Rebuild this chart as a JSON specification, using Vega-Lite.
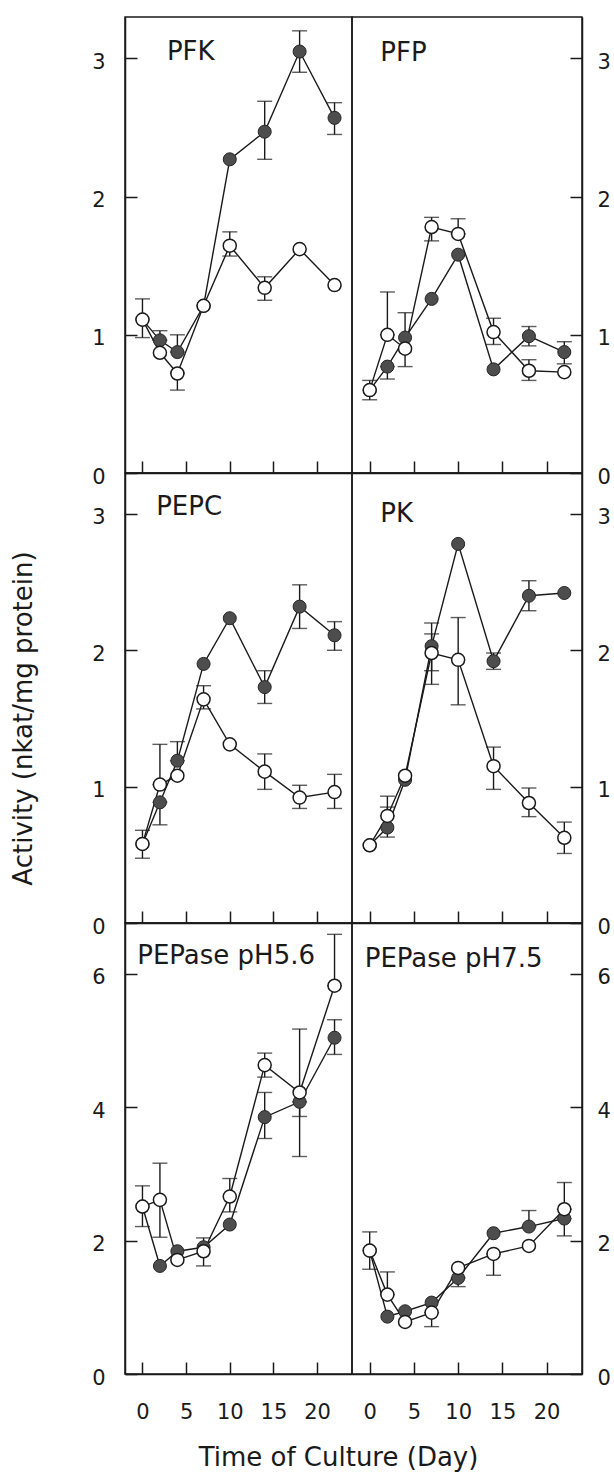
{
  "$schema": "https://vega.github.io/schema/vega-lite/v6.json",
  "padding": {"top": 16, "left": 9, "right": 0, "bottom": 2},
  "config": {
    "font": "DejaVu Sans",
    "view": {"stroke": "#1a1a1a", "strokeWidth": 1.5},
    "axis": {"grid": false, "tickSize": -12, "tickWidth": 1.5, "tickColor": "#1a1a1a", "domainColor": "#1a1a1a", "domainWidth": 1.5, "labelFontSize": 21, "labelColor": "#1a1a1a", "labelFont": "DejaVu Sans", "titleFont": "DejaVu Sans", "titleFontWeight": "normal", "titleColor": "#1a1a1a"},
    "axisLeft": {"labelPadding": 32, "labelOffset": 4},
    "axisRight": {"labelPadding": 27, "labelOffset": 4},
    "axisBottom": {"labelPadding": 39}
  },
  "datasets": {
    "d": [
      {"p": "PFK", "d": 0, "s": "filled", "v": 1.11, "lo": null, "hi": null},
      {"p": "PFK", "d": 2, "s": "filled", "v": 0.96, "lo": 0.96, "hi": 1.03},
      {"p": "PFK", "d": 4, "s": "filled", "v": 0.875, "lo": 0.875, "hi": 1.0},
      {"p": "PFK", "d": 7, "s": "filled", "v": 1.21, "lo": null, "hi": null},
      {"p": "PFK", "d": 10, "s": "filled", "v": 2.27, "lo": null, "hi": null},
      {"p": "PFK", "d": 14, "s": "filled", "v": 2.47, "lo": 2.27, "hi": 2.69},
      {"p": "PFK", "d": 18, "s": "filled", "v": 3.05, "lo": 2.9, "hi": 3.2},
      {"p": "PFK", "d": 22, "s": "filled", "v": 2.57, "lo": 2.45, "hi": 2.68},
      {"p": "PFK", "d": 0, "s": "open", "v": 1.11, "lo": 0.98, "hi": 1.26},
      {"p": "PFK", "d": 2, "s": "open", "v": 0.87, "lo": null, "hi": null},
      {"p": "PFK", "d": 4, "s": "open", "v": 0.72, "lo": 0.6, "hi": 0.72},
      {"p": "PFK", "d": 7, "s": "open", "v": 1.21, "lo": null, "hi": null},
      {"p": "PFK", "d": 10, "s": "open", "v": 1.645, "lo": 1.57, "hi": 1.745},
      {"p": "PFK", "d": 14, "s": "open", "v": 1.34, "lo": 1.25, "hi": 1.42},
      {"p": "PFK", "d": 18, "s": "open", "v": 1.62, "lo": null, "hi": null},
      {"p": "PFK", "d": 22, "s": "open", "v": 1.36, "lo": null, "hi": null},

      {"p": "PFP", "d": 0, "s": "filled", "v": 0.6, "lo": null, "hi": null},
      {"p": "PFP", "d": 2, "s": "filled", "v": 0.77, "lo": 0.68, "hi": 0.77},
      {"p": "PFP", "d": 4, "s": "filled", "v": 0.98, "lo": null, "hi": null},
      {"p": "PFP", "d": 7, "s": "filled", "v": 1.26, "lo": null, "hi": null},
      {"p": "PFP", "d": 10, "s": "filled", "v": 1.58, "lo": null, "hi": null},
      {"p": "PFP", "d": 14, "s": "filled", "v": 0.75, "lo": null, "hi": null},
      {"p": "PFP", "d": 18, "s": "filled", "v": 0.99, "lo": 0.92, "hi": 1.06},
      {"p": "PFP", "d": 22, "s": "filled", "v": 0.875, "lo": 0.79, "hi": 0.95},
      {"p": "PFP", "d": 0, "s": "open", "v": 0.6, "lo": 0.53, "hi": 0.67},
      {"p": "PFP", "d": 2, "s": "open", "v": 1.0, "lo": 1.0, "hi": 1.31},
      {"p": "PFP", "d": 4, "s": "open", "v": 0.9, "lo": 0.77, "hi": 1.16},
      {"p": "PFP", "d": 7, "s": "open", "v": 1.78, "lo": 1.68, "hi": 1.85},
      {"p": "PFP", "d": 10, "s": "open", "v": 1.73, "lo": 1.73, "hi": 1.84},
      {"p": "PFP", "d": 14, "s": "open", "v": 1.02, "lo": 0.93, "hi": 1.12},
      {"p": "PFP", "d": 18, "s": "open", "v": 0.74, "lo": 0.67, "hi": 0.82},
      {"p": "PFP", "d": 22, "s": "open", "v": 0.73, "lo": null, "hi": null},

      {"p": "PEPC", "d": 0, "s": "filled", "v": 0.58, "lo": null, "hi": null},
      {"p": "PEPC", "d": 2, "s": "filled", "v": 0.885, "lo": 0.72, "hi": 0.885},
      {"p": "PEPC", "d": 4, "s": "filled", "v": 1.19, "lo": 1.19, "hi": 1.33},
      {"p": "PEPC", "d": 7, "s": "filled", "v": 1.9, "lo": null, "hi": null},
      {"p": "PEPC", "d": 10, "s": "filled", "v": 2.235, "lo": null, "hi": null},
      {"p": "PEPC", "d": 14, "s": "filled", "v": 1.73, "lo": 1.61, "hi": 1.85},
      {"p": "PEPC", "d": 18, "s": "filled", "v": 2.32, "lo": 2.16, "hi": 2.48},
      {"p": "PEPC", "d": 22, "s": "filled", "v": 2.11, "lo": 2.0, "hi": 2.21},
      {"p": "PEPC", "d": 0, "s": "open", "v": 0.58, "lo": 0.475, "hi": 0.68},
      {"p": "PEPC", "d": 2, "s": "open", "v": 1.015, "lo": 1.015, "hi": 1.31},
      {"p": "PEPC", "d": 4, "s": "open", "v": 1.08, "lo": null, "hi": null},
      {"p": "PEPC", "d": 7, "s": "open", "v": 1.64, "lo": 1.57, "hi": 1.74},
      {"p": "PEPC", "d": 10, "s": "open", "v": 1.31, "lo": null, "hi": null},
      {"p": "PEPC", "d": 14, "s": "open", "v": 1.11, "lo": 0.98, "hi": 1.24},
      {"p": "PEPC", "d": 18, "s": "open", "v": 0.92, "lo": 0.84, "hi": 1.01},
      {"p": "PEPC", "d": 22, "s": "open", "v": 0.96, "lo": 0.84, "hi": 1.09},

      {"p": "PK", "d": 0, "s": "filled", "v": 0.57, "lo": null, "hi": null},
      {"p": "PK", "d": 2, "s": "filled", "v": 0.7, "lo": 0.63, "hi": 0.85},
      {"p": "PK", "d": 4, "s": "filled", "v": 1.05, "lo": null, "hi": null},
      {"p": "PK", "d": 7, "s": "filled", "v": 2.03, "lo": 1.85, "hi": 2.12},
      {"p": "PK", "d": 10, "s": "filled", "v": 2.78, "lo": null, "hi": null},
      {"p": "PK", "d": 14, "s": "filled", "v": 1.92, "lo": 1.86, "hi": 1.98},
      {"p": "PK", "d": 18, "s": "filled", "v": 2.4, "lo": 2.29, "hi": 2.51},
      {"p": "PK", "d": 22, "s": "filled", "v": 2.42, "lo": null, "hi": null},
      {"p": "PK", "d": 0, "s": "open", "v": 0.57, "lo": null, "hi": null},
      {"p": "PK", "d": 2, "s": "open", "v": 0.785, "lo": 0.785, "hi": 0.93},
      {"p": "PK", "d": 4, "s": "open", "v": 1.08, "lo": null, "hi": null},
      {"p": "PK", "d": 7, "s": "open", "v": 1.98, "lo": 1.75, "hi": 2.2},
      {"p": "PK", "d": 10, "s": "open", "v": 1.93, "lo": 1.6, "hi": 2.24},
      {"p": "PK", "d": 14, "s": "open", "v": 1.15, "lo": 0.98, "hi": 1.29},
      {"p": "PK", "d": 18, "s": "open", "v": 0.88, "lo": 0.78, "hi": 0.99},
      {"p": "PK", "d": 22, "s": "open", "v": 0.625, "lo": 0.51, "hi": 0.74},

      {"p": "PEPase pH5.6", "d": 0, "s": "filled", "v": 2.51, "lo": null, "hi": null},
      {"p": "PEPase pH5.6", "d": 2, "s": "filled", "v": 1.62, "lo": null, "hi": null},
      {"p": "PEPase pH5.6", "d": 4, "s": "filled", "v": 1.84, "lo": null, "hi": null},
      {"p": "PEPase pH5.6", "d": 7, "s": "filled", "v": 1.9, "lo": null, "hi": null},
      {"p": "PEPase pH5.6", "d": 10, "s": "filled", "v": 2.24, "lo": null, "hi": null},
      {"p": "PEPase pH5.6", "d": 14, "s": "filled", "v": 3.85, "lo": 3.53, "hi": 4.22},
      {"p": "PEPase pH5.6", "d": 18, "s": "filled", "v": 4.08, "lo": 3.86, "hi": 4.08},
      {"p": "PEPase pH5.6", "d": 22, "s": "filled", "v": 5.04, "lo": 4.79, "hi": 5.31},
      {"p": "PEPase pH5.6", "d": 0, "s": "open", "v": 2.51, "lo": 2.21, "hi": 2.82},
      {"p": "PEPase pH5.6", "d": 2, "s": "open", "v": 2.61, "lo": 2.05, "hi": 3.16},
      {"p": "PEPase pH5.6", "d": 4, "s": "open", "v": 1.71, "lo": null, "hi": null},
      {"p": "PEPase pH5.6", "d": 7, "s": "open", "v": 1.84, "lo": 1.62, "hi": 2.04},
      {"p": "PEPase pH5.6", "d": 10, "s": "open", "v": 2.66, "lo": 2.43, "hi": 2.93},
      {"p": "PEPase pH5.6", "d": 14, "s": "open", "v": 4.63, "lo": 4.45, "hi": 4.81},
      {"p": "PEPase pH5.6", "d": 18, "s": "open", "v": 4.22, "lo": 3.26, "hi": 5.17},
      {"p": "PEPase pH5.6", "d": 22, "s": "open", "v": 5.82, "lo": 5.82, "hi": 6.59},

      {"p": "PEPase pH7.5", "d": 0, "s": "filled", "v": 1.85, "lo": null, "hi": null},
      {"p": "PEPase pH7.5", "d": 2, "s": "filled", "v": 0.86, "lo": null, "hi": null},
      {"p": "PEPase pH7.5", "d": 4, "s": "filled", "v": 0.94, "lo": null, "hi": null},
      {"p": "PEPase pH7.5", "d": 7, "s": "filled", "v": 1.07, "lo": null, "hi": null},
      {"p": "PEPase pH7.5", "d": 10, "s": "filled", "v": 1.44, "lo": 1.31, "hi": 1.44},
      {"p": "PEPase pH7.5", "d": 14, "s": "filled", "v": 2.11, "lo": null, "hi": null},
      {"p": "PEPase pH7.5", "d": 18, "s": "filled", "v": 2.21, "lo": 2.21, "hi": 2.45},
      {"p": "PEPase pH7.5", "d": 22, "s": "filled", "v": 2.33, "lo": 2.07, "hi": 2.33},
      {"p": "PEPase pH7.5", "d": 0, "s": "open", "v": 1.85, "lo": 1.57, "hi": 2.13},
      {"p": "PEPase pH7.5", "d": 2, "s": "open", "v": 1.19, "lo": 1.19, "hi": 1.53},
      {"p": "PEPase pH7.5", "d": 4, "s": "open", "v": 0.78, "lo": null, "hi": null},
      {"p": "PEPase pH7.5", "d": 7, "s": "open", "v": 0.92, "lo": 0.71, "hi": 0.92},
      {"p": "PEPase pH7.5", "d": 10, "s": "open", "v": 1.59, "lo": null, "hi": null},
      {"p": "PEPase pH7.5", "d": 14, "s": "open", "v": 1.8, "lo": 1.48, "hi": 1.8},
      {"p": "PEPase pH7.5", "d": 18, "s": "open", "v": 1.92, "lo": null, "hi": null},
      {"p": "PEPase pH7.5", "d": 22, "s": "open", "v": 2.47, "lo": 2.47, "hi": 2.87}
    ]
  },
  "columns": 2,
  "spacing": 0,
  "bounds": "flush",
  "concat": [
    {
      "width": 227, "height": 456,
      "data": {"name": "d"},
      "transform": [{"filter": "datum.p === 'PFK'"}],
      "layer": [
        {"transform": [{"filter": "datum.lo != null"}], "mark": {"type": "errorbar", "ticks": {"size": 15, "thickness": 1.4, "color": "#1a1a1a"}, "rule": {"strokeWidth": 1.4, "color": "#1a1a1a"}},
         "encoding": {"x": {"field": "d", "type": "quantitative", "scale": {"domain": [-2, 24], "nice": false}, "axis": {"values": [0, 5, 10, 15, 20], "format": "d", "labels": false, "title": null}},
                      "y": {"field": "lo", "type": "quantitative", "scale": {"domain": [0, 3.3], "nice": false}, "axis": {"orient": "left", "values": [0, 1, 2, 3], "format": "d", "title": null}}, "y2": {"field": "hi"}}},
        {"mark": {"type": "line", "color": "#1a1a1a", "strokeWidth": 1.4},
         "encoding": {"x": {"field": "d", "type": "quantitative", "scale": {"domain": [-2, 24], "nice": false}, "axis": {"values": [0, 5, 10, 15, 20], "format": "d", "labels": false, "title": null}},
                      "y": {"field": "v", "type": "quantitative", "scale": {"domain": [0, 3.3], "nice": false}, "axis": {"orient": "left", "values": [0, 1, 2, 3], "format": "d", "title": null}}, "detail": {"field": "s"}}},
        {"transform": [{"filter": "datum.s === 'filled'"}], "mark": {"type": "point", "shape": "circle", "size": 170, "filled": true, "fill": "#4d4d4d", "stroke": "#262626", "strokeWidth": 1, "opacity": 1},
         "encoding": {"x": {"field": "d", "type": "quantitative", "scale": {"domain": [-2, 24], "nice": false}, "axis": {"values": [0, 5, 10, 15, 20], "format": "d", "labels": false, "title": null}},
                      "y": {"field": "v", "type": "quantitative", "scale": {"domain": [0, 3.3], "nice": false}, "axis": {"orient": "left", "values": [0, 1, 2, 3], "format": "d", "title": null}}}},
        {"transform": [{"filter": "datum.s === 'open'"}], "mark": {"type": "point", "shape": "circle", "size": 170, "filled": true, "fill": "white", "stroke": "#1a1a1a", "strokeWidth": 1.5, "opacity": 1},
         "encoding": {"x": {"field": "d", "type": "quantitative", "scale": {"domain": [-2, 24], "nice": false}, "axis": {"values": [0, 5, 10, 15, 20], "format": "d", "labels": false, "title": null}},
                      "y": {"field": "v", "type": "quantitative", "scale": {"domain": [0, 3.3], "nice": false}, "axis": {"orient": "left", "values": [0, 1, 2, 3], "format": "d", "title": null}}}},
        {"transform": [{"filter": "datum.d === 0 && datum.s === 'open'"}], "mark": {"type": "text", "align": "left", "baseline": "middle", "fontSize": 26, "color": "#1a1a1a"},
         "encoding": {"x": {"datum": 2.8, "type": "quantitative"}, "y": {"datum": 3.05, "type": "quantitative"}, "text": {"field": "p"}}}
      ]
    },
    {
      "width": 230, "height": 456,
      "data": {"name": "d"},
      "transform": [{"filter": "datum.p === 'PFP'"}],
      "layer": [
        {"transform": [{"filter": "datum.lo != null"}], "mark": {"type": "errorbar", "ticks": {"size": 15, "thickness": 1.4, "color": "#1a1a1a"}, "rule": {"strokeWidth": 1.4, "color": "#1a1a1a"}},
         "encoding": {"x": {"field": "d", "type": "quantitative", "scale": {"domain": [-2, 24], "nice": false}, "axis": {"values": [0, 5, 10, 15, 20], "format": "d", "labels": false, "title": null}},
                      "y": {"field": "lo", "type": "quantitative", "scale": {"domain": [0, 3.3], "nice": false}, "axis": {"orient": "right", "values": [0, 1, 2, 3], "format": "d", "title": null}}, "y2": {"field": "hi"}}},
        {"mark": {"type": "line", "color": "#1a1a1a", "strokeWidth": 1.4},
         "encoding": {"x": {"field": "d", "type": "quantitative", "scale": {"domain": [-2, 24], "nice": false}, "axis": {"values": [0, 5, 10, 15, 20], "format": "d", "labels": false, "title": null}},
                      "y": {"field": "v", "type": "quantitative", "scale": {"domain": [0, 3.3], "nice": false}, "axis": {"orient": "right", "values": [0, 1, 2, 3], "format": "d", "title": null}}, "detail": {"field": "s"}}},
        {"transform": [{"filter": "datum.s === 'filled'"}], "mark": {"type": "point", "shape": "circle", "size": 170, "filled": true, "fill": "#4d4d4d", "stroke": "#262626", "strokeWidth": 1, "opacity": 1},
         "encoding": {"x": {"field": "d", "type": "quantitative", "scale": {"domain": [-2, 24], "nice": false}, "axis": {"values": [0, 5, 10, 15, 20], "format": "d", "labels": false, "title": null}},
                      "y": {"field": "v", "type": "quantitative", "scale": {"domain": [0, 3.3], "nice": false}, "axis": {"orient": "right", "values": [0, 1, 2, 3], "format": "d", "title": null}}}},
        {"transform": [{"filter": "datum.s === 'open'"}], "mark": {"type": "point", "shape": "circle", "size": 170, "filled": true, "fill": "white", "stroke": "#1a1a1a", "strokeWidth": 1.5, "opacity": 1},
         "encoding": {"x": {"field": "d", "type": "quantitative", "scale": {"domain": [-2, 24], "nice": false}, "axis": {"values": [0, 5, 10, 15, 20], "format": "d", "labels": false, "title": null}},
                      "y": {"field": "v", "type": "quantitative", "scale": {"domain": [0, 3.3], "nice": false}, "axis": {"orient": "right", "values": [0, 1, 2, 3], "format": "d", "title": null}}}},
        {"transform": [{"filter": "datum.d === 0 && datum.s === 'open'"}], "mark": {"type": "text", "align": "left", "baseline": "middle", "fontSize": 26, "color": "#1a1a1a"},
         "encoding": {"x": {"datum": 1.2, "type": "quantitative"}, "y": {"datum": 3.04, "type": "quantitative"}, "text": {"field": "p"}}}
      ]
    },
    {
      "width": 227, "height": 450,
      "data": {"name": "d"},
      "transform": [{"filter": "datum.p === 'PEPC'"}],
      "layer": [
        {"transform": [{"filter": "datum.lo != null"}], "mark": {"type": "errorbar", "ticks": {"size": 15, "thickness": 1.4, "color": "#1a1a1a"}, "rule": {"strokeWidth": 1.4, "color": "#1a1a1a"}},
         "encoding": {"x": {"field": "d", "type": "quantitative", "scale": {"domain": [-2, 24], "nice": false}, "axis": {"values": [0, 5, 10, 15, 20], "format": "d", "labels": false, "title": null}},
                      "y": {"field": "lo", "type": "quantitative", "scale": {"domain": [0, 3.3], "nice": false}, "axis": {"orient": "left", "values": [0, 1, 2, 3], "format": "d", "title": "Activity (nkat/mg protein)", "titleFontSize": 26, "titlePadding": 55, "titleY": 245}}, "y2": {"field": "hi"}}},
        {"mark": {"type": "line", "color": "#1a1a1a", "strokeWidth": 1.4},
         "encoding": {"x": {"field": "d", "type": "quantitative", "scale": {"domain": [-2, 24], "nice": false}, "axis": {"values": [0, 5, 10, 15, 20], "format": "d", "labels": false, "title": null}},
                      "y": {"field": "v", "type": "quantitative", "scale": {"domain": [0, 3.3], "nice": false}, "axis": {"orient": "left", "values": [0, 1, 2, 3], "format": "d", "title": "Activity (nkat/mg protein)", "titleFontSize": 26, "titlePadding": 55, "titleY": 245}}, "detail": {"field": "s"}}},
        {"transform": [{"filter": "datum.s === 'filled'"}], "mark": {"type": "point", "shape": "circle", "size": 170, "filled": true, "fill": "#4d4d4d", "stroke": "#262626", "strokeWidth": 1, "opacity": 1},
         "encoding": {"x": {"field": "d", "type": "quantitative", "scale": {"domain": [-2, 24], "nice": false}, "axis": {"values": [0, 5, 10, 15, 20], "format": "d", "labels": false, "title": null}},
                      "y": {"field": "v", "type": "quantitative", "scale": {"domain": [0, 3.3], "nice": false}, "axis": {"orient": "left", "values": [0, 1, 2, 3], "format": "d", "title": "Activity (nkat/mg protein)", "titleFontSize": 26, "titlePadding": 55, "titleY": 245}}}},
        {"transform": [{"filter": "datum.s === 'open'"}], "mark": {"type": "point", "shape": "circle", "size": 170, "filled": true, "fill": "white", "stroke": "#1a1a1a", "strokeWidth": 1.5, "opacity": 1},
         "encoding": {"x": {"field": "d", "type": "quantitative", "scale": {"domain": [-2, 24], "nice": false}, "axis": {"values": [0, 5, 10, 15, 20], "format": "d", "labels": false, "title": null}},
                      "y": {"field": "v", "type": "quantitative", "scale": {"domain": [0, 3.3], "nice": false}, "axis": {"orient": "left", "values": [0, 1, 2, 3], "format": "d", "title": "Activity (nkat/mg protein)", "titleFontSize": 26, "titlePadding": 55, "titleY": 245}}}},
        {"transform": [{"filter": "datum.d === 0 && datum.s === 'open'"}], "mark": {"type": "text", "align": "left", "baseline": "middle", "fontSize": 26, "color": "#1a1a1a"},
         "encoding": {"x": {"datum": 1.57, "type": "quantitative"}, "y": {"datum": 3.05, "type": "quantitative"}, "text": {"field": "p"}}}
      ]
    },
    {
      "width": 230, "height": 450,
      "data": {"name": "d"},
      "transform": [{"filter": "datum.p === 'PK'"}],
      "layer": [
        {"transform": [{"filter": "datum.lo != null"}], "mark": {"type": "errorbar", "ticks": {"size": 15, "thickness": 1.4, "color": "#1a1a1a"}, "rule": {"strokeWidth": 1.4, "color": "#1a1a1a"}},
         "encoding": {"x": {"field": "d", "type": "quantitative", "scale": {"domain": [-2, 24], "nice": false}, "axis": {"values": [0, 5, 10, 15, 20], "format": "d", "labels": false, "title": null}},
                      "y": {"field": "lo", "type": "quantitative", "scale": {"domain": [0, 3.3], "nice": false}, "axis": {"orient": "right", "values": [0, 1, 2, 3], "format": "d", "title": null}}, "y2": {"field": "hi"}}},
        {"mark": {"type": "line", "color": "#1a1a1a", "strokeWidth": 1.4},
         "encoding": {"x": {"field": "d", "type": "quantitative", "scale": {"domain": [-2, 24], "nice": false}, "axis": {"values": [0, 5, 10, 15, 20], "format": "d", "labels": false, "title": null}},
                      "y": {"field": "v", "type": "quantitative", "scale": {"domain": [0, 3.3], "nice": false}, "axis": {"orient": "right", "values": [0, 1, 2, 3], "format": "d", "title": null}}, "detail": {"field": "s"}}},
        {"transform": [{"filter": "datum.s === 'filled'"}], "mark": {"type": "point", "shape": "circle", "size": 170, "filled": true, "fill": "#4d4d4d", "stroke": "#262626", "strokeWidth": 1, "opacity": 1},
         "encoding": {"x": {"field": "d", "type": "quantitative", "scale": {"domain": [-2, 24], "nice": false}, "axis": {"values": [0, 5, 10, 15, 20], "format": "d", "labels": false, "title": null}},
                      "y": {"field": "v", "type": "quantitative", "scale": {"domain": [0, 3.3], "nice": false}, "axis": {"orient": "right", "values": [0, 1, 2, 3], "format": "d", "title": null}}}},
        {"transform": [{"filter": "datum.s === 'open'"}], "mark": {"type": "point", "shape": "circle", "size": 170, "filled": true, "fill": "white", "stroke": "#1a1a1a", "strokeWidth": 1.5, "opacity": 1},
         "encoding": {"x": {"field": "d", "type": "quantitative", "scale": {"domain": [-2, 24], "nice": false}, "axis": {"values": [0, 5, 10, 15, 20], "format": "d", "labels": false, "title": null}},
                      "y": {"field": "v", "type": "quantitative", "scale": {"domain": [0, 3.3], "nice": false}, "axis": {"orient": "right", "values": [0, 1, 2, 3], "format": "d", "title": null}}}},
        {"transform": [{"filter": "datum.d === 0 && datum.s === 'open'"}], "mark": {"type": "text", "align": "left", "baseline": "middle", "fontSize": 26, "color": "#1a1a1a"},
         "encoding": {"x": {"datum": 1.2, "type": "quantitative"}, "y": {"datum": 3.0, "type": "quantitative"}, "text": {"field": "p"}}}
      ]
    },
    {
      "width": 227, "height": 451,
      "data": {"name": "d"},
      "transform": [{"filter": "datum.p === 'PEPase pH5.6'"}],
      "layer": [
        {"transform": [{"filter": "datum.lo != null"}], "mark": {"type": "errorbar", "ticks": {"size": 15, "thickness": 1.4, "color": "#1a1a1a"}, "rule": {"strokeWidth": 1.4, "color": "#1a1a1a"}},
         "encoding": {"x": {"field": "d", "type": "quantitative", "scale": {"domain": [-2, 24], "nice": false}, "axis": {"values": [0, 5, 10, 15, 20], "format": "d", "title": "Time of Culture (Day)", "titleX": 213, "titleFontSize": 26, "titlePadding": 22}},
                      "y": {"field": "lo", "type": "quantitative", "scale": {"domain": [0, 6.76], "nice": false}, "axis": {"orient": "left", "values": [0, 2, 4, 6], "format": "d", "title": null}}, "y2": {"field": "hi"}}},
        {"mark": {"type": "line", "color": "#1a1a1a", "strokeWidth": 1.4},
         "encoding": {"x": {"field": "d", "type": "quantitative", "scale": {"domain": [-2, 24], "nice": false}, "axis": {"values": [0, 5, 10, 15, 20], "format": "d", "title": "Time of Culture (Day)", "titleX": 213, "titleFontSize": 26, "titlePadding": 22}},
                      "y": {"field": "v", "type": "quantitative", "scale": {"domain": [0, 6.76], "nice": false}, "axis": {"orient": "left", "values": [0, 2, 4, 6], "format": "d", "title": null}}, "detail": {"field": "s"}}},
        {"transform": [{"filter": "datum.s === 'filled'"}], "mark": {"type": "point", "shape": "circle", "size": 170, "filled": true, "fill": "#4d4d4d", "stroke": "#262626", "strokeWidth": 1, "opacity": 1},
         "encoding": {"x": {"field": "d", "type": "quantitative", "scale": {"domain": [-2, 24], "nice": false}, "axis": {"values": [0, 5, 10, 15, 20], "format": "d", "title": "Time of Culture (Day)", "titleX": 213, "titleFontSize": 26, "titlePadding": 22}},
                      "y": {"field": "v", "type": "quantitative", "scale": {"domain": [0, 6.76], "nice": false}, "axis": {"orient": "left", "values": [0, 2, 4, 6], "format": "d", "title": null}}}},
        {"transform": [{"filter": "datum.s === 'open'"}], "mark": {"type": "point", "shape": "circle", "size": 170, "filled": true, "fill": "white", "stroke": "#1a1a1a", "strokeWidth": 1.5, "opacity": 1},
         "encoding": {"x": {"field": "d", "type": "quantitative", "scale": {"domain": [-2, 24], "nice": false}, "axis": {"values": [0, 5, 10, 15, 20], "format": "d", "title": "Time of Culture (Day)", "titleX": 213, "titleFontSize": 26, "titlePadding": 22}},
                      "y": {"field": "v", "type": "quantitative", "scale": {"domain": [0, 6.76], "nice": false}, "axis": {"orient": "left", "values": [0, 2, 4, 6], "format": "d", "title": null}}}},
        {"transform": [{"filter": "datum.d === 0 && datum.s === 'open'"}], "mark": {"type": "text", "align": "left", "baseline": "middle", "fontSize": 26, "color": "#1a1a1a"},
         "encoding": {"x": {"datum": -0.6, "type": "quantitative"}, "y": {"datum": 6.26, "type": "quantitative"}, "text": {"field": "p"}}}
      ]
    },
    {
      "width": 230, "height": 451,
      "data": {"name": "d"},
      "transform": [{"filter": "datum.p === 'PEPase pH7.5'"}],
      "layer": [
        {"transform": [{"filter": "datum.lo != null"}], "mark": {"type": "errorbar", "ticks": {"size": 15, "thickness": 1.4, "color": "#1a1a1a"}, "rule": {"strokeWidth": 1.4, "color": "#1a1a1a"}},
         "encoding": {"x": {"field": "d", "type": "quantitative", "scale": {"domain": [-2, 24], "nice": false}, "axis": {"values": [0, 5, 10, 15, 20], "format": "d", "title": null}},
                      "y": {"field": "lo", "type": "quantitative", "scale": {"domain": [0, 6.76], "nice": false}, "axis": {"orient": "right", "values": [0, 2, 4, 6], "format": "d", "title": null}}, "y2": {"field": "hi"}}},
        {"mark": {"type": "line", "color": "#1a1a1a", "strokeWidth": 1.4},
         "encoding": {"x": {"field": "d", "type": "quantitative", "scale": {"domain": [-2, 24], "nice": false}, "axis": {"values": [0, 5, 10, 15, 20], "format": "d", "title": null}},
                      "y": {"field": "v", "type": "quantitative", "scale": {"domain": [0, 6.76], "nice": false}, "axis": {"orient": "right", "values": [0, 2, 4, 6], "format": "d", "title": null}}, "detail": {"field": "s"}}},
        {"transform": [{"filter": "datum.s === 'filled'"}], "mark": {"type": "point", "shape": "circle", "size": 170, "filled": true, "fill": "#4d4d4d", "stroke": "#262626", "strokeWidth": 1, "opacity": 1},
         "encoding": {"x": {"field": "d", "type": "quantitative", "scale": {"domain": [-2, 24], "nice": false}, "axis": {"values": [0, 5, 10, 15, 20], "format": "d", "title": null}},
                      "y": {"field": "v", "type": "quantitative", "scale": {"domain": [0, 6.76], "nice": false}, "axis": {"orient": "right", "values": [0, 2, 4, 6], "format": "d", "title": null}}}},
        {"transform": [{"filter": "datum.s === 'open'"}], "mark": {"type": "point", "shape": "circle", "size": 170, "filled": true, "fill": "white", "stroke": "#1a1a1a", "strokeWidth": 1.5, "opacity": 1},
         "encoding": {"x": {"field": "d", "type": "quantitative", "scale": {"domain": [-2, 24], "nice": false}, "axis": {"values": [0, 5, 10, 15, 20], "format": "d", "title": null}},
                      "y": {"field": "v", "type": "quantitative", "scale": {"domain": [0, 6.76], "nice": false}, "axis": {"orient": "right", "values": [0, 2, 4, 6], "format": "d", "title": null}}}},
        {"transform": [{"filter": "datum.d === 0 && datum.s === 'open'"}], "mark": {"type": "text", "align": "left", "baseline": "middle", "fontSize": 26, "color": "#1a1a1a"},
         "encoding": {"x": {"datum": -0.56, "type": "quantitative"}, "y": {"datum": 6.22, "type": "quantitative"}, "text": {"field": "p"}}}
      ]
    }
  ]
}
